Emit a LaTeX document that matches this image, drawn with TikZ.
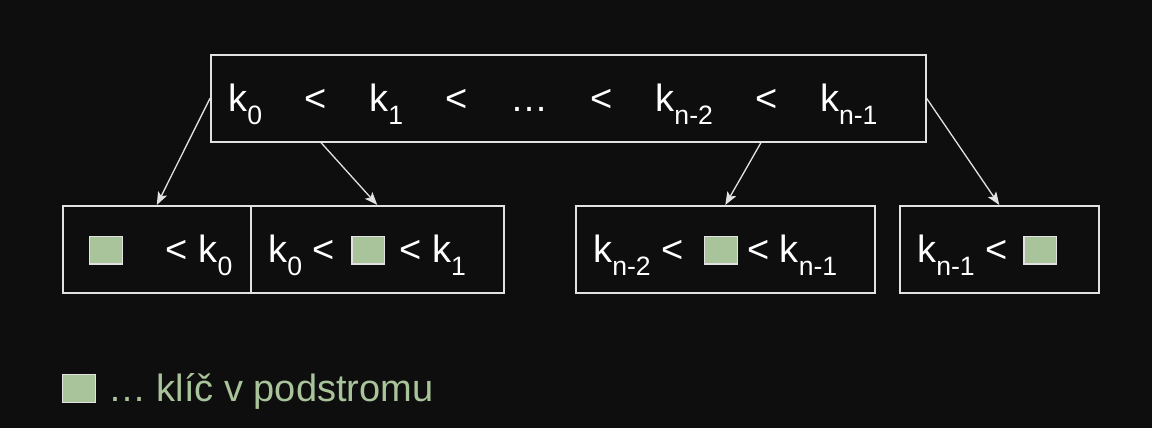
\documentclass[tikz,border=0pt]{standalone}
\usepackage{fontspec}
\setmainfont{Liberation Sans}
\usepackage{tikz}
\usetikzlibrary{arrows.meta}
\definecolor{bgdark}{HTML}{0E0E0E}
\definecolor{keygreen}{HTML}{A9C49A}
\definecolor{lineg}{HTML}{E2E2E2}
\tikzset{>={Stealth[length=13pt,width=10pt,inset=3pt]}}
\newcommand{\ksub}[1]{\raisebox{-13.5pt}{\fontsize{26.6}{28}\selectfont #1}}
\newcommand{\keysq}{{\setlength{\fboxsep}{0pt}\setlength{\fboxrule}{1.2pt}\raisebox{-1pt}{\fcolorbox{lineg}{keygreen}{\rule{0pt}{26.6pt}\rule{31.6pt}{0pt}}}}}
\newcommand{\gap}{\hspace{42.5pt}}
\tikzset{%
    keynode/.style={%
        draw=lineg, line width=1.6pt, text=white, font=\fontsize{38}{44}\selectfont,
        inner xsep=17.5pt, inner ysep=0pt, text height=30pt, text depth=4pt,
        minimum height=87pt, anchor=north west
    },
    link/.style={->, draw=lineg, line width=1.3pt}
}

\begin{document}
\begin{tikzpicture}[x=1pt,y=-1pt]
    \fill[bgdark] (0,0) rectangle (1152,428);
    \node[keynode] (root) at (210,54) {\makebox[680pt][l]{k\ksub{0}\gap<\gap k\ksub{1}\gap<\gap …\gap<\gap k\ksub{n-2}\gap<\gap k\ksub{n-1}}};
    \node[keynode] (b1) at (62,205) {\makebox[153pt][l]{\hspace*{8.5pt}\keysq\hspace{43pt}< k\ksub{0}}};
    \node[keynode] (b2) at (250,205) {\makebox[218pt][l]{k\ksub{0} < \hspace{6pt}\keysq\hspace{14pt}< k\ksub{1}}};
    \node[keynode] (b3) at (575,205) {\makebox[264pt][l]{k\ksub{n-2} < \hspace{10pt}\keysq\hspace{9pt}< k\ksub{n-1}}};
    \node[keynode] (b4) at (899,205) {\makebox[164pt][l]{k\ksub{n-1} < \hspace{5.4pt}\keysq}};
    \draw[link] (root.west) -- (b1.north);
    \draw[link] ([xshift=111pt]root.south west) -- (b2.north);
    \draw[link] ([xshift=551pt]root.south west) -- (b3.north);
    \draw[link] (root.east) -- (b4.north);
    \node[anchor=base west, inner sep=0pt, text=keygreen, font=\fontsize{38}{44}\selectfont] (legend) at (62,401) {\keysq\hspace{12pt}… klíč v podstromu};
\end{tikzpicture}
\end{document}
